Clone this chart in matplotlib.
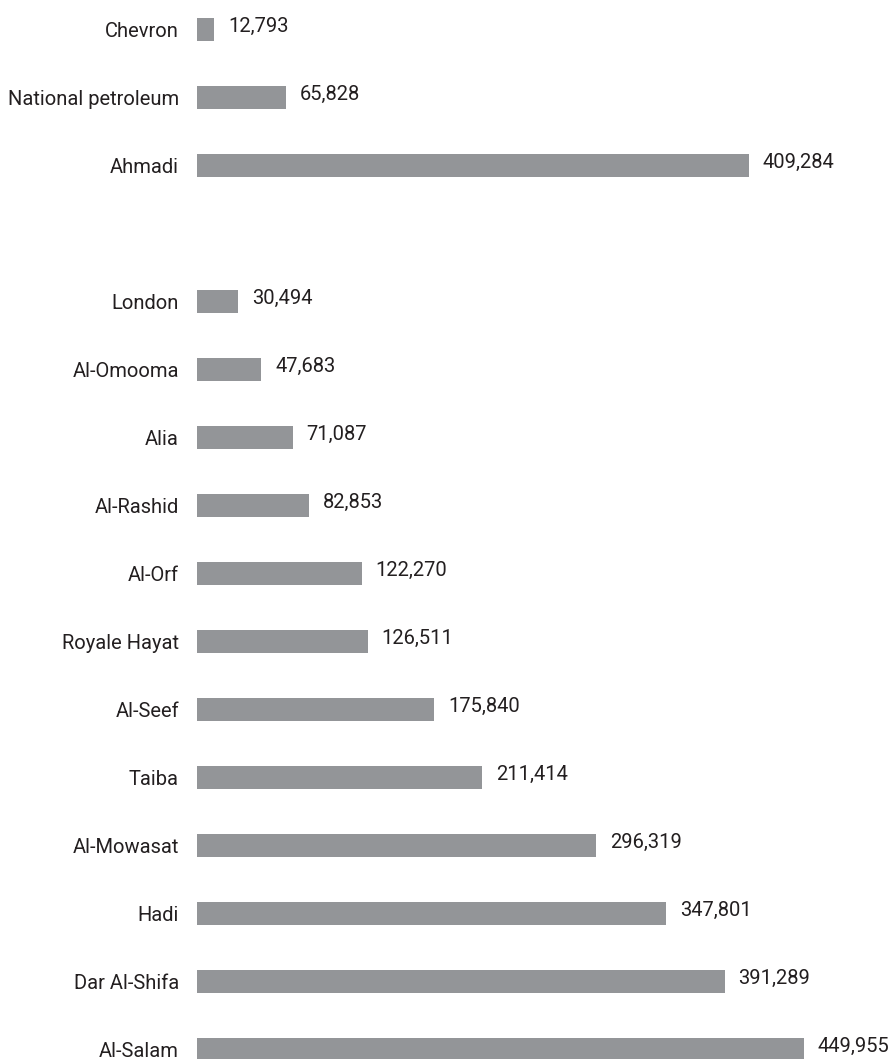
import matplotlib.pyplot as plt

# hospitals, top to bottom; None marks the blank gap between the two groups
names = ["Chevron", "National petroleum", "Ahmadi", None,
         "London", "Al-Omooma", "Alia", "Al-Rashid", "Al-Orf", "Royale Hayat",
         "Al-Seef", "Taiba", "Al-Mowasat", "Hadi", "Dar Al-Shifa", "Al-Salam"]
values = [12793, 65828, 409284, None,
          30494, 47683, 71087, 82853, 122270, 126511,
          175840, 211414, 296319, 347801, 391289, 449955]

BAR = "#939598"
TXT = "#231f20"

plt.rcParams['font.family'] = ['Roboto', 'DejaVu Sans']
FS = 14.5

fig = plt.figure(figsize=(8.94, 10.59), dpi=100)
ax = fig.add_axes([197 / 894, 0, 697 / 894, 1])

pos = [i for i, n in enumerate(names) if n is not None]
labs = [names[i] for i in pos]
vals = [values[i] for i in pos]

ax.barh(pos, vals, height=0.34, color=BAR)

for p, lab, v in zip(pos, labs, vals):
    ax.annotate(f"{v:,}", (v, p), xytext=(10, 2), textcoords="offset points",
                ha="left", va="center", fontsize=FS, color=TXT,
                annotation_clip=False)
    ax.annotate(lab, (0, p), xytext=(-13, -1.5), textcoords="offset points",
                ha="right", va="center", fontsize=FS, color=TXT,
                annotation_clip=False)

ax.set_xticks([])
ax.set_yticks([])
ax.set_xlim(0, 517000)
ax.set_ylim((1059 - 29.5) / 68, -29.5 / 68)
for s in ax.spines.values():
    s.set_visible(False)

fig.savefig("out.png", dpi=100)
